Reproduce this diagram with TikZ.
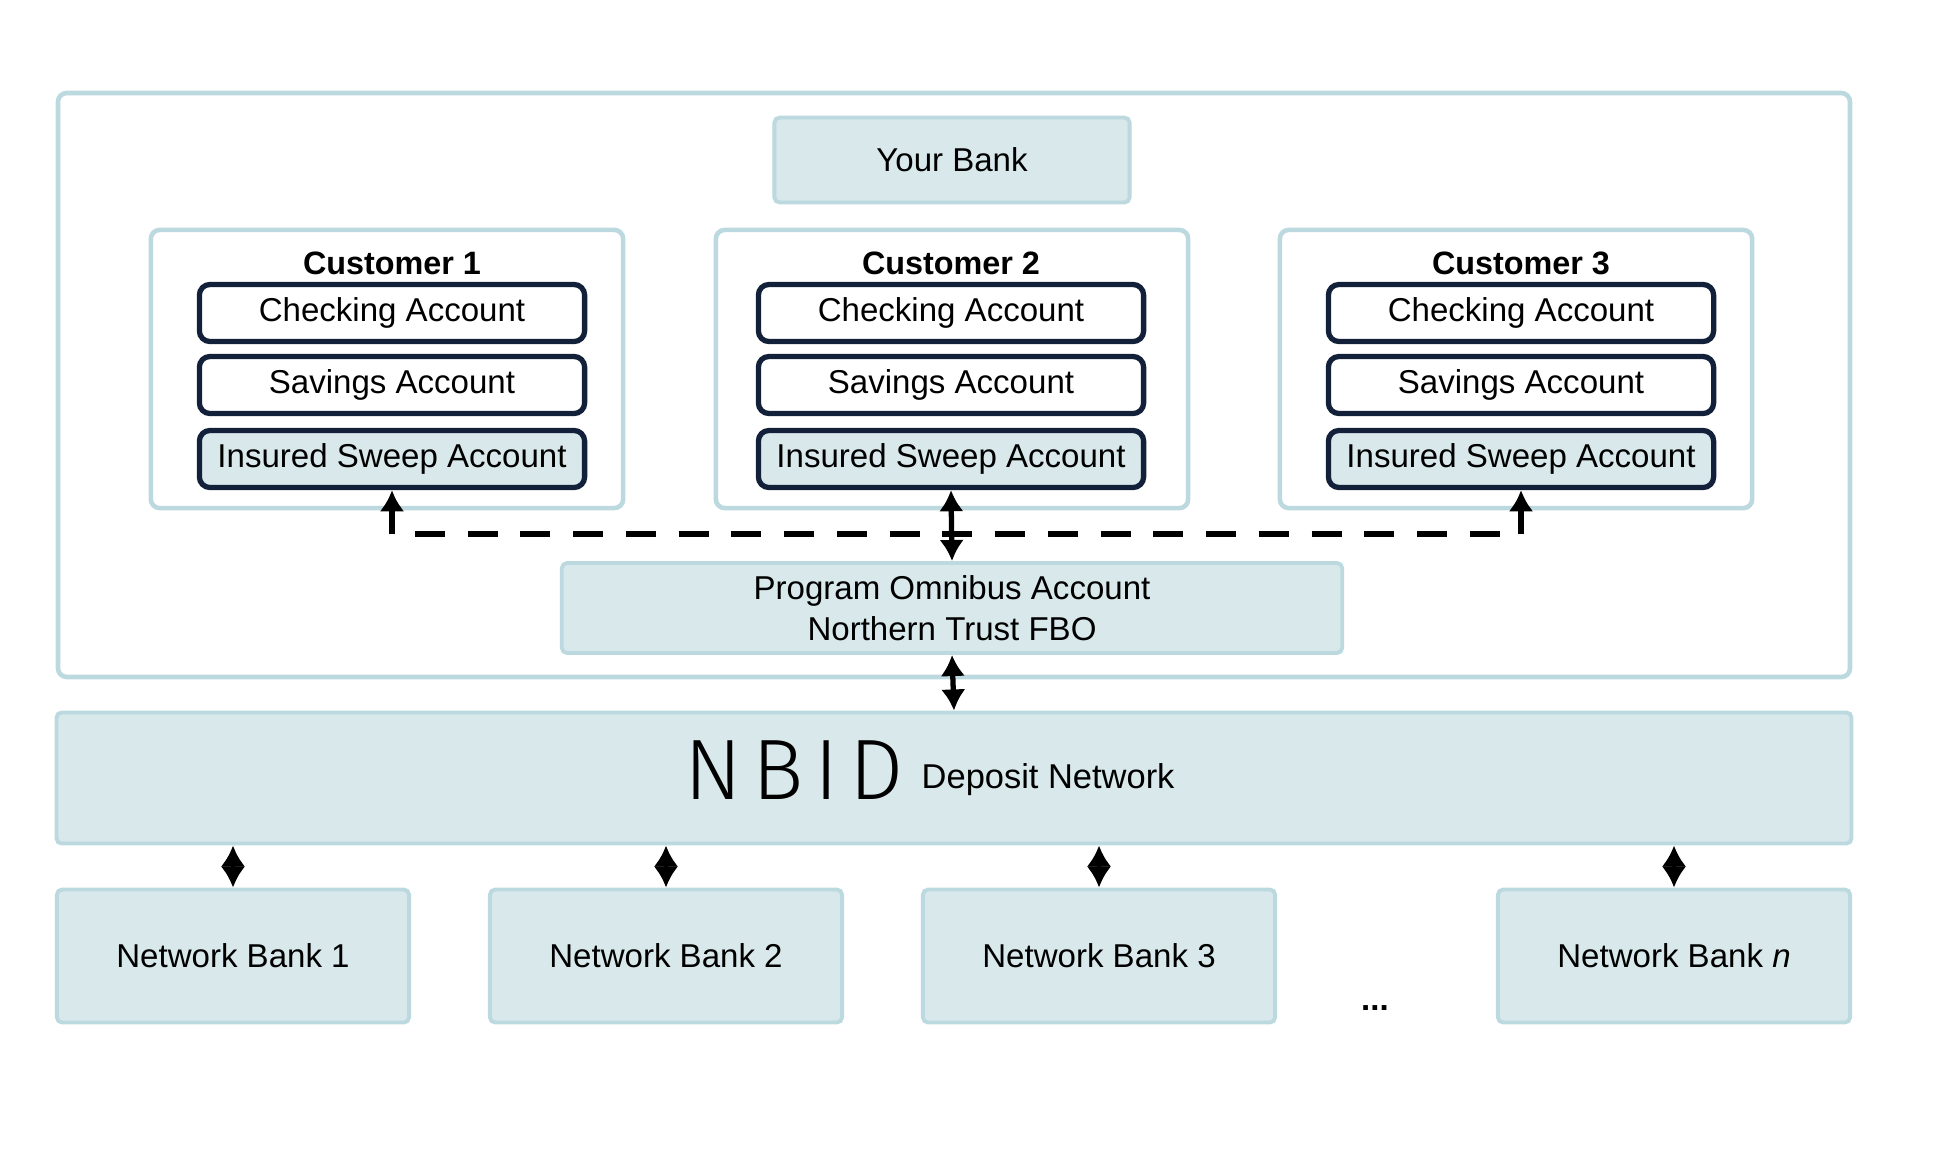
\documentclass[tikz,border=0pt]{standalone}
\usepackage{fontspec}
\setmainfont{Liberation Sans}
\newfontfamily\thinfont{Fira Sans Light}
\usepackage{xcolor}
\usetikzlibrary{calc, arrows.meta, positioning}

\definecolor{paleblue}{RGB}{216,232,235}
\definecolor{edgeblue}{RGB}{187,217,222}
\definecolor{navy}{RGB}{18,32,58}

\begin{document}
\begin{tikzpicture}[x=0.01cm, y=-0.01cm, >={Latex[length=6pt, width=7pt]},
    font=\fontsize{9.4}{11.5}\selectfont,
    frame/.style={draw=edgeblue, line width=1.3pt, rounded corners=2.5pt, fill=white},
    shaded/.style={draw=edgeblue, fill=paleblue, line width=1.1pt, rounded corners=1.5pt, align=center, inner sep=0pt},
    acct/.style={draw=navy, line width=1.5pt, rounded corners=3pt, minimum width=3.85cm, minimum height=0.57cm, inner sep=0pt},
    bank/.style={shaded, minimum width=3.52cm, minimum height=1.33cm},
    flow/.style={<->, line width=1.5pt}]
    \useasboundingbox (0,0) rectangle (1934,1166);

    % Your bank
    \draw[frame] (58,93) rectangle (1850,677);
    \node[shaded, minimum width=3.55cm, minimum height=0.85cm] (yb) at (952,160) {Your Bank};

    % Customers and their accounts
    \foreach \i/\cx/\ax in {1/387/392, 2/952/951, 3/1516/1521} {
        \node[frame, minimum width=4.72cm, minimum height=2.78cm] (cust\i) at (\cx,369) {};
        \node[font=\fontsize{9.2}{11}\selectfont\bfseries] (name\i) at (\ax,263) {Customer \i};
        \node[acct] (chk\i) at (\ax,313) {Checking Account};
        \node[acct] (sav\i) at (\ax,385) {Savings Account};
        \node[acct, fill=paleblue] (ins\i) at (\ax,459) {Insured Sweep Account};
    }

    % Omnibus account
    \node[shaded, minimum width=7.8cm, minimum height=0.9cm] (omni) at (952,608)
        {Program Omnibus Account\\Northern Trust FBO};

    % Sweep links
    \coordinate (d1) at (392,534);
    \coordinate (d3) at (1521,534);
    \draw[line width=1.8pt, dash pattern=on 8.5pt off 6.5pt, dash phase=8.5pt] (d1) -- (d3);
    \draw[->, line width=1.6pt] (d1) -- (ins1.south);
    \draw[->, line width=1.6pt] (d3) -- (ins3.south);
    \draw[flow] (ins2.south) -- (omni.north);

    % Deposit network
    \node[shaded, minimum width=17.94cm, minimum height=1.31cm] (nbid) at (954,778) {};
    \node[font=\thinfont\fontsize{24.4}{28}\selectfont, anchor=base west, inner sep=0pt] (logo) at (684,799)
        {N\kern3pt B\kern3pt I\kern3pt D};
    \node[font=\fontsize{9.8}{12}\selectfont, anchor=base west, inner sep=0pt] (nbidtxt) at (921,788) {Deposit Network};
    \draw[flow] (omni.south) -- (nbid.north);

    % Network banks
    \foreach \j/\bx/\lab in {1/233/1, 2/666/2, 3/1099/3, 4/1674/\textit{n}} {
        \node[bank] (nb\j) at (\bx,956) {Network Bank \lab};
        \draw[flow, line width=1.1pt] (nb\j.north |- nbid.south) -- (nb\j.north);
    }
    \node[font=\fontsize{9.4}{11.5}\selectfont\bfseries] (dots) at (1375,1008) {...};
\end{tikzpicture}
\end{document}
